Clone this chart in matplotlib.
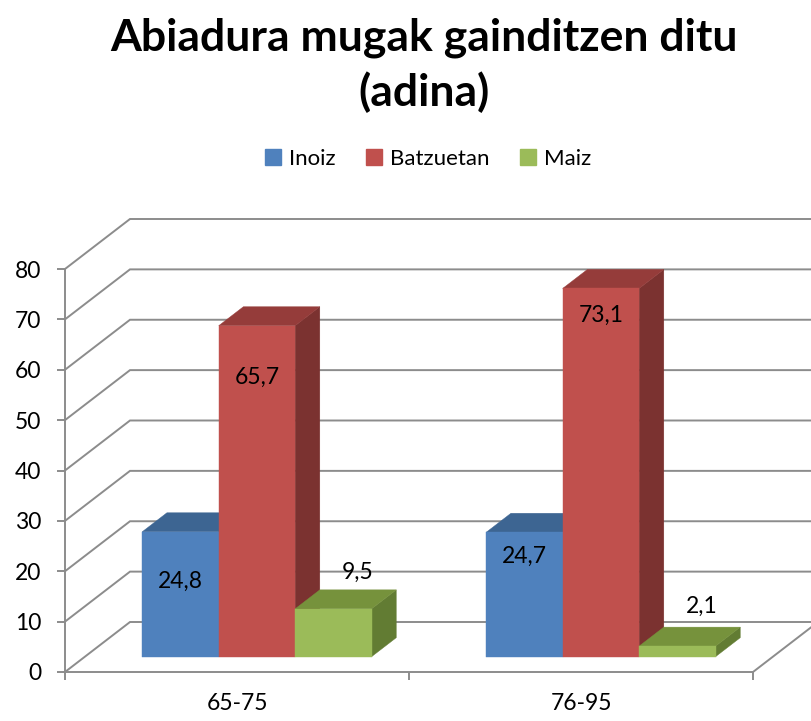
import numpy as np
import matplotlib
matplotlib.use('Agg')
import matplotlib.pyplot as plt
from matplotlib.patches import Polygon, Patch

# data
categories = ['65-75', '76-95']
series = ['Inoiz', 'Batzuetan', 'Maiz']
inoiz = [24.8, 24.7]
batzuetan = [65.7, 73.1]
maiz = [9.5, 2.1]
values = [inoiz, batzuetan, maiz]
labels = [['24,8', '24,7'], ['65,7', '73,1'], ['9,5', '2,1']]

# colours: front, top, side
front_col = ['#4F81BD', '#C0504D', '#9BBB59']
top_col = ['#3D6592', '#953C3A', '#76923C']
side_col = ['#345886', '#7B3230', '#627C33']
grid_col = '#8C8C8C'

# label offsets in pixels (y from top of bar)
label_off = [[-50, -24], [-52, -27], [17, 21]]

plt.rcParams['font.family'] = ['Lato', 'DejaVu Sans']

W, H = 811, 721
fig = plt.figure(figsize=(W / 100, H / 100), dpi=100)

x0, y0, xw, yh = 65, 672, 688, 403
ax = fig.add_axes([x0 / W, 1 - y0 / H, xw / W, yh / H])
ax.set_xlim(0, 2)
ax.set_ylim(0, 80)

# oblique depth: full depth w=1 moves 65 px right and 50 px up
DX = 65 / xw * 2
DY = 50 / yh * 80


def proj(u, v, w):
    return (u + w * DX, v + w * DY)


# back wall and left wall grid
for v in range(0, 81, 10):
    a = proj(0, v, 0)
    b = proj(0, v, 1)
    c = proj(2.2, v, 1)
    ax.plot([a[0], b[0], c[0]], [a[1], b[1], c[1]], color=grid_col, lw=1.4,
            clip_on=False, zorder=1, solid_joinstyle='miter')
# floor right edge
a = proj(2, 0, 0)
b = proj(2, 0, 1)
ax.plot([a[0], b[0]], [a[1], b[1]], color=grid_col, lw=1.4, clip_on=False, zorder=1)

# bars
n = len(series)
gap = 1.5
bw = 1.0 / (n + gap)
w0, w1 = 0.306, 0.686
for g in range(len(categories)):
    for s in range(n):
        v = values[s][g]
        ul = g + gap * bw / 2 + s * bw
        ur = ul + bw
        z = 3 + g * n + s
        front = [proj(ul, 0, w0), proj(ur, 0, w0), proj(ur, v, w0), proj(ul, v, w0)]
        top = [proj(ul, v, w0), proj(ur, v, w0), proj(ur, v, w1), proj(ul, v, w1)]
        side = [proj(ur, 0, w0), proj(ur, 0, w1), proj(ur, v, w1), proj(ur, v, w0)]
        for pts, col in [(side, side_col[s]), (top, top_col[s]), (front, front_col[s])]:
            ax.add_patch(Polygon(pts, closed=True, facecolor=col, edgecolor=col,
                                 lw=0.3, clip_on=False, zorder=z))
        if s < 2:
            px, py = proj((ul + ur) / 2, v, w0)
        else:
            px, py = proj((ul + ur) / 2, v, w1)
        ax.annotate(labels[s][g], (px, py), xytext=(0, label_off[s][g] * 0.72),
                    textcoords='offset points', ha='center', va='center',
                    fontsize=16.5, color='black', zorder=20, annotation_clip=False)

# axes look
for sp in ['top', 'right']:
    ax.spines[sp].set_visible(False)
for sp in ['left', 'bottom']:
    ax.spines[sp].set_color(grid_col)
    ax.spines[sp].set_linewidth(1.4)
ax.set_facecolor('none')
ax.set_yticks(range(0, 81, 10))
ax.tick_params(axis='y', length=6, width=1.4, color=grid_col, labelsize=16.5, pad=11)
ax.set_xticks([0, 1, 2])
ax.set_xticklabels([])
ax.set_xticks([0.5, 1.5], minor=True)
ax.set_xticklabels(categories, minor=True)
ax.tick_params(axis='x', which='major', length=6, width=1.4, color=grid_col)
ax.tick_params(axis='x', which='minor', length=0, labelsize=16.5, pad=15)

fig.text(424 / W, 1 - 38 / H, 'Abiadura mugak gainditzen ditu', ha='center', va='center',
         fontsize=32, fontweight='bold')
fig.text(424 / W, 1 - 92 / H, '(adina)', ha='center', va='center',
         fontsize=32, fontweight='bold')

handles = [Patch(facecolor=c, edgecolor=c) for c in front_col]
fig.legend(handles, series, loc='center', bbox_to_anchor=(428 / W, 1 - 159 / H), ncol=3,
           frameon=False, fontsize=16, handlelength=0.7, handleheight=0.7,
           handletextpad=0.35, columnspacing=1.4)

fig.savefig('out.png', dpi=100)
